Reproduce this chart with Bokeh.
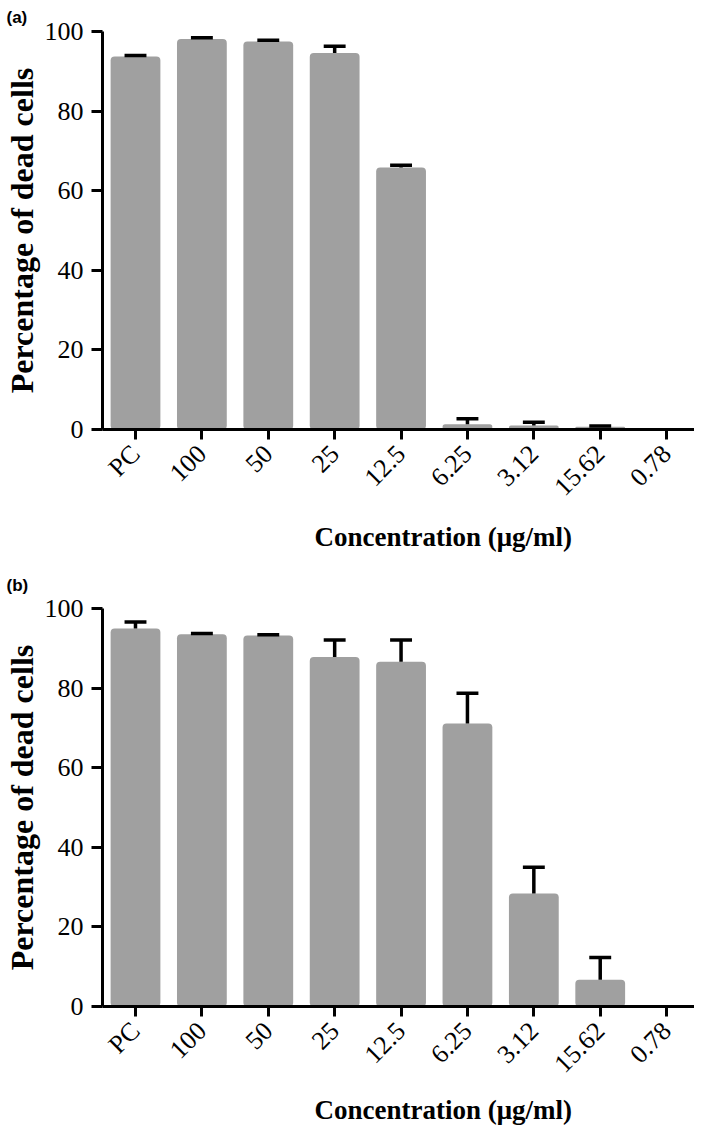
import math
from bokeh.plotting import figure
from bokeh.layouts import column
from bokeh.models import FixedTicker, ColumnDataSource, Title, Range1d
from bokeh.embed import file_html
from bokeh.resources import INLINE

categories = ["PC", "100", "50", "25", "12.5", "6.25", "3.12", "15.62", "0.78"]
ticks_y = [0, 20, 40, 60, 80, 100]

vals_a = [93.7, 98.1, 97.5, 94.6, 65.8, 1.3, 1.0, 0.7, 0.0]
err_a = [0.3, 0.3, 0.3, 1.7, 0.6, 1.4, 0.8, 0.2, 0.0]

vals_b = [95.0, 93.5, 93.2, 87.8, 86.6, 71.1, 28.4, 6.7, 0.0]
err_b = [1.6, 0.2, 0.2, 4.3, 5.5, 7.6, 6.6, 5.6, 0.0]

SERIF = "Liberation Serif"
BAR = "#a0a0a0"


def panel(vals, errs, tag, top, bottom, tag_standoff, title_standoff):
    idx = list(range(len(categories)))
    p = figure(frame_width=592, frame_height=398, output_backend="svg", toolbar_location=None,
               x_range=Range1d(-0.497, 8.42), y_range=Range1d(0, 100),
               min_border_left=101, min_border_right=0,
               min_border_top=top, min_border_bottom=bottom)
    p.outline_line_color = None
    p.grid.visible = False
    p.background_fill_color = "white"
    p.border_fill_color = "white"

    src = ColumnDataSource(dict(x=idx, top=vals))
    p.vbar(x="x", top="top", width=0.75, source=src, fill_color=BAR, line_color=None,
           border_radius=4)

    ex = [i for i, e in zip(idx, errs) if e > 0]
    ey0 = [v for v, e in zip(vals, errs) if e > 0]
    ey1 = [v + e for v, e in zip(vals, errs) if e > 0]
    esrc = ColumnDataSource(dict(x=ex, y0=ey0, y1=ey1,
                                 cx0=[x - 0.165 for x in ex], cx1=[x + 0.165 for x in ex]))
    p.segment(x0="x", y0="y0", x1="x", y1="y1", source=esrc, line_color="black", line_width=3.5)
    p.segment(x0="cx0", y0="y1", x1="cx1", y1="y1", source=esrc, line_color="black", line_width=3.5)

    # x axis
    xa = p.xaxis[0]
    xa.ticker = FixedTicker(ticks=idx)
    xa.major_label_overrides = {i: c for i, c in zip(idx, categories)}
    xa.major_label_orientation = math.pi / 4
    xa.minor_tick_line_color = None
    xa.axis_line_width = 3
    xa.major_tick_line_width = 3
    xa.major_tick_out = 10
    xa.major_tick_in = 0
    xa.major_label_text_font = SERIF
    xa.major_label_text_font_size = "26px"
    xa.major_label_text_color = "black"
    xa.major_label_standoff = 10

    # y axis
    ya = p.yaxis[0]
    ya.ticker = FixedTicker(ticks=ticks_y)
    ya.minor_tick_line_color = None
    ya.axis_line_width = 3
    ya.major_tick_line_width = 3
    ya.major_tick_out = 11
    ya.major_tick_in = 0
    ya.major_label_text_font = SERIF
    ya.major_label_text_font_size = "26px"
    ya.major_label_text_color = "black"
    ya.major_label_standoff = 8
    ya.axis_label = "Percentage of dead cells"
    ya.axis_label_text_font = SERIF
    ya.axis_label_text_font_style = "bold"
    ya.axis_label_text_font_size = "32px"
    ya.axis_label_text_color = "black"
    ya.axis_label_standoff = 2

    xt = Title(text="Concentration (\u03bcg/ml)", align="left", offset=212,
               text_font=SERIF, text_font_style="bold", text_font_size="27px",
               text_color="black", standoff=title_standoff)
    p.add_layout(xt, "below")

    p.title.text = tag
    p.title.align = "left"
    p.title.offset = -96
    p.title.text_font = "Liberation Sans"
    p.title.text_font_style = "bold"
    p.title.text_font_size = "17px"
    p.title.text_color = "black"
    p.title.standoff = tag_standoff
    return p


pa = panel(vals_a, err_a, "(a)", 28, 130, 10, 10)
pb = panel(vals_b, err_b, "(b)", 48, 121, 28, 2)

layout = column(pa, pb, spacing=0)
open("out.html", "w").write(file_html(layout, INLINE))
